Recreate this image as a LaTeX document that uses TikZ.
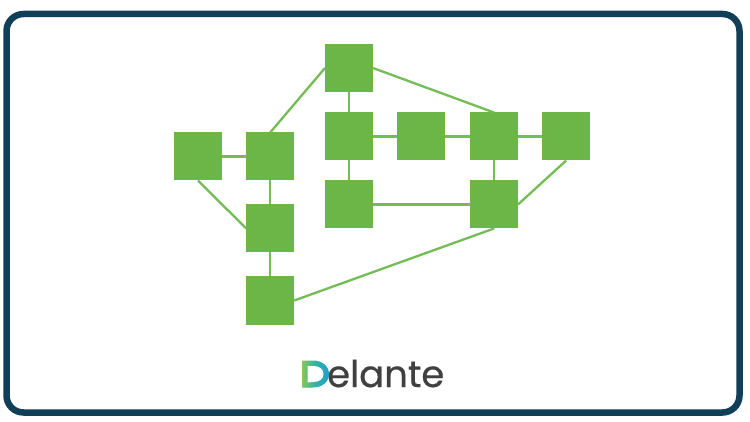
\documentclass[tikz,border=0pt]{standalone}
\usepackage{fontspec}
\setmainfont[FakeBold=0.6]{Poppins}
\definecolor{frame}{HTML}{123F58}
\definecolor{sq}{HTML}{6CB647}
\definecolor{ln}{HTML}{74BC55}
\definecolor{ink}{HTML}{404040}
\definecolor{dgreen}{HTML}{86C65A}
\definecolor{dteal}{HTML}{2FB3A6}
\definecolor{dblue}{HTML}{1E9FD0}
\tikzset{
  box/.style={fill=sq,draw=none,minimum size=48pt,inner sep=0pt,outer sep=0pt},
  link/.style={draw=ln,line width=2.3pt},
  logo/.style={inner sep=0pt,outer sep=0pt,font=\fontsize{37}{37}\selectfont,text=ink,anchor=base west}
}
\begin{document}
\begin{tikzpicture}[x=1pt,y=-1pt]
\useasboundingbox (0,0) rectangle (750,422);
\fill[white] (0,0) rectangle (750,422);
\draw[frame,line width=6.5pt,rounded corners=17pt,fill=white] (6.5,14) rectangle (739.5,412.5);
\node[box] (a) at (198,156.5) {};
\node[box] (b) at (270.2,156.5) {};
\node[box] (c) at (270.2,228.5) {};
\node[box] (d) at (270.2,300.5) {};
\node[box] (e) at (349,68) {};
\node[box] (f) at (349,136.5) {};
\node[box] (g) at (421.2,136.5) {};
\node[box] (h) at (494,136.5) {};
\node[box] (i) at (566.2,136.5) {};
\node[box] (j) at (349,204.5) {};
\node[box] (k) at (494,204.5) {};
\draw[link] (a) -- (b);
\draw[link] (b) -- (c);
\draw[link] (c) -- (d);
\draw[link] (e) -- (f);
\draw[link] (f) -- (g);
\draw[link] (g) -- (h);
\draw[link] (h) -- (i);
\draw[link] (f) -- (j);
\draw[link] (j) -- (k);
\draw[link] (h) -- (k);
\draw[link] (a.south) -- (c.west);
\draw[link] (b.north) -- (e.west);
\draw[link] (e.east) -- (h.north);
\draw[link] (i.south) -- (k.east);
\draw[link] (k.south) -- (d.east);
\node[logo] (brand) at (301,387) {\textcolor{dteal}{D}elante};
\shade[left color=dgreen,right color=dblue,middle color=dteal]
  (302,360.5) -- (313,360.5) .. controls (322.5,360.5) and (329,366.5) .. (329,374)
  .. controls (329,381.5) and (322.5,387.5) .. (313,387.5) -- (302,387.5) -- cycle;
\fill[white]
  (307.5,366) -- (307.5,382.5) -- (313,382) .. controls (319.5,382) and (323.5,379) .. (323.5,374)
  .. controls (323.5,369) and (319.5,366) .. (313,366) -- cycle;
\end{tikzpicture}
\end{document}
